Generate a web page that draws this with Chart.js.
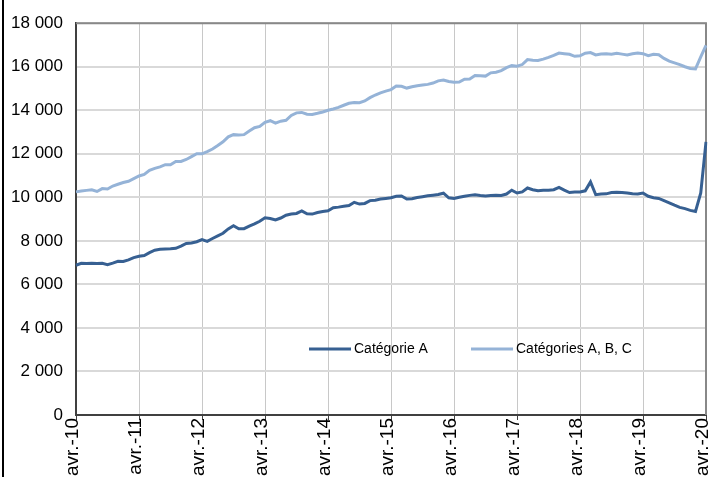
<!DOCTYPE html>
<html>
  <head>
    <title>Document</title>
    <script src="https://cdn.jsdelivr.net/npm/chart.js"></script>
    <style>
      body { margin: 0; background: #fff; }
      canvas { display: block; }
    </style>
  </head>
  <body>
    <canvas id="indexChart" width="711" height="477"></canvas>
    <script>
      // mois affichés sur l'axe (un libellé par mois, avr.-10 à avr.-20)
      var mois = ["avr.", "mai", "juin", "juil.", "août", "sept.", "oct.", "nov.", "déc.", "janv.", "févr.", "mars"];
      var labels = [];
      for (var i = 0; i <= 120; i++) {
        labels.push(mois[i % 12] + "-" + (10 + Math.floor((i + 3) / 12)));
      }

      var categorieA = [
        6880, 6970, 6960, 6970, 6960, 6970, 6910, 6980, 7060, 7050, 7130, 7230,
        7290, 7330, 7460, 7570, 7610, 7630, 7640, 7660, 7760, 7880, 7900, 7960,
        8060, 7980, 8110, 8230, 8350, 8550, 8700, 8560, 8560, 8680, 8780, 8900,
        9060, 9030, 8960, 9050, 9180, 9230, 9260, 9380, 9240, 9230, 9300, 9350,
        9380, 9520, 9550, 9590, 9620, 9770, 9690, 9720, 9850, 9870, 9920, 9950,
        9980, 10050, 10060, 9920, 9940, 9990, 10030, 10070, 10100, 10130, 10190, 9980,
        9950, 10000, 10050, 10090, 10120, 10080, 10060, 10080, 10100, 10090, 10150, 10330,
        10200, 10250, 10430, 10350, 10300, 10320, 10330, 10350, 10460, 10330, 10220, 10240,
        10250, 10300, 10710, 10120, 10150, 10160, 10220, 10230, 10220, 10200, 10160, 10150,
        10200, 10050, 9980, 9950, 9850, 9750, 9640, 9540, 9480, 9400, 9350, 10200,
        12550
      ];

      var categoriesABC = [
        10250, 10290, 10320, 10350, 10270, 10400, 10380, 10520, 10600, 10680, 10740, 10860,
        10980, 11050, 11240, 11330, 11400, 11500, 11500, 11650, 11650, 11740, 11870, 12000,
        12000, 12100, 12220, 12380, 12550, 12780, 12880, 12860, 12880, 13050, 13200, 13260,
        13450, 13520, 13410, 13500, 13540, 13760, 13880, 13900, 13820, 13810, 13860, 13920,
        14000, 14060, 14130, 14230, 14320, 14360, 14350, 14430, 14580, 14700, 14800, 14880,
        14950, 15110, 15100, 15020, 15080, 15130, 15160, 15190, 15250, 15350, 15390, 15320,
        15290, 15300, 15430, 15440, 15600, 15590, 15570, 15720, 15750, 15820, 15960, 16050,
        16020, 16100, 16330, 16300, 16290, 16350, 16430, 16520, 16630, 16600, 16570, 16480,
        16500, 16620, 16650, 16540, 16580, 16600, 16570, 16620, 16580, 16540, 16600, 16630,
        16600, 16510, 16570, 16550, 16380, 16260, 16180, 16100, 16000, 15920, 15900, 16450,
        16980
      ];

      var seriesNames = ["Catégorie A", "Catégories A, B, C"];
      var seriesColors = ["#376092", "#95b3d7"];

      var FONT = "'Liberation Sans', Arial, sans-serif";

      function formatNombre(v) {
        return String(v).replace(/\B(?=(\d{3})+(?!\d))/g, " ");
      }

      // bordure du cadre + légende dans la zone de tracé
      var decorPlugin = {
        id: "decor",
        beforeDatasetsDraw: function (chart) {
          var ctx = chart.ctx;
          var a = chart.chartArea;
          ctx.save();
          ctx.strokeStyle = "#888888";
          ctx.lineWidth = 2;
          ctx.beginPath();
          ctx.moveTo(a.left, a.top);
          ctx.lineTo(a.right, a.top);
          ctx.lineTo(a.right, a.bottom);
          ctx.stroke();
          ctx.restore();
        },
        afterDraw: function (chart) {
          var ctx = chart.ctx;
          ctx.save();
          ctx.fillStyle = "#000";
          ctx.fillRect(2, 0, 2, chart.height);

          var xs = [309, 471];
          var y = 349;
          ctx.font = "14px " + FONT;
          ctx.textBaseline = "middle";
          ctx.textAlign = "left";
          chart.data.datasets.forEach(function (ds, k) {
            ctx.strokeStyle = ds.borderColor;
            ctx.lineWidth = 3;
            ctx.beginPath();
            ctx.moveTo(xs[k], y);
            ctx.lineTo(xs[k] + 42, y);
            ctx.stroke();
            ctx.fillStyle = "#000";
            ctx.fillText(ds.label, xs[k] + 45, y);
          });
          ctx.restore();
        },
      };

      var ctx = document.getElementById("indexChart").getContext("2d");
      var chart = new Chart(ctx, {
        type: "line",
        data: {
          labels: labels,
          datasets: [
            {
              label: seriesNames[0],
              data: categorieA,
              borderColor: seriesColors[0],
              backgroundColor: seriesColors[0],
              borderWidth: 3,
              pointRadius: 0,
              tension: 0,
            },
            {
              label: seriesNames[1],
              data: categoriesABC,
              borderColor: seriesColors[1],
              backgroundColor: seriesColors[1],
              borderWidth: 3,
              pointRadius: 0,
              tension: 0,
            },
          ],
        },
        options: {
          responsive: false,
          animation: false,
          layout: { padding: { top: 20, right: 5, left: 0, bottom: 0 } },
          plugins: {
            legend: { display: false },
            tooltip: { enabled: false },
          },
          scales: {
            x: {
              offset: false,
              afterFit: function (scale) {
                scale.height = 62;
                scale.paddingLeft = 0;
                scale.paddingRight = 0;
              },
              grid: {
                color: function (c) { return c.index % 12 === 0 ? "#c8c8c8" : "rgba(0,0,0,0)"; },
                tickColor: function (c) { return c.index % 12 === 0 ? "#404040" : "rgba(0,0,0,0)"; },
                lineWidth: 1,
                tickLength: 5,
              },
              border: { color: "#404040", width: 2 },
              ticks: {
                autoSkip: false,
                minRotation: 90,
                maxRotation: 90,
                padding: -2,
                labelOffset: -3,
                color: "#000",
                font: { family: FONT, size: 19 },
                callback: function (v, i) { return i % 12 === 0 ? labels[i] : ""; },
              },
            },
            y: {
              min: 0,
              max: 18000,
              afterFit: function (scale) {
                scale.width = 76;
              },
              grid: { color: "#d9d9d9", lineWidth: 2, drawTicks: false },
              border: { color: "#404040", width: 2 },
              ticks: {
                stepSize: 2000,
                padding: 13,
                color: "#000",
                font: { family: FONT, size: 17 },
                callback: function (v) { return formatNombre(v); },
              },
            },
          },
        },
        plugins: [decorPlugin],
      });
    </script>
  </body>
</html>
